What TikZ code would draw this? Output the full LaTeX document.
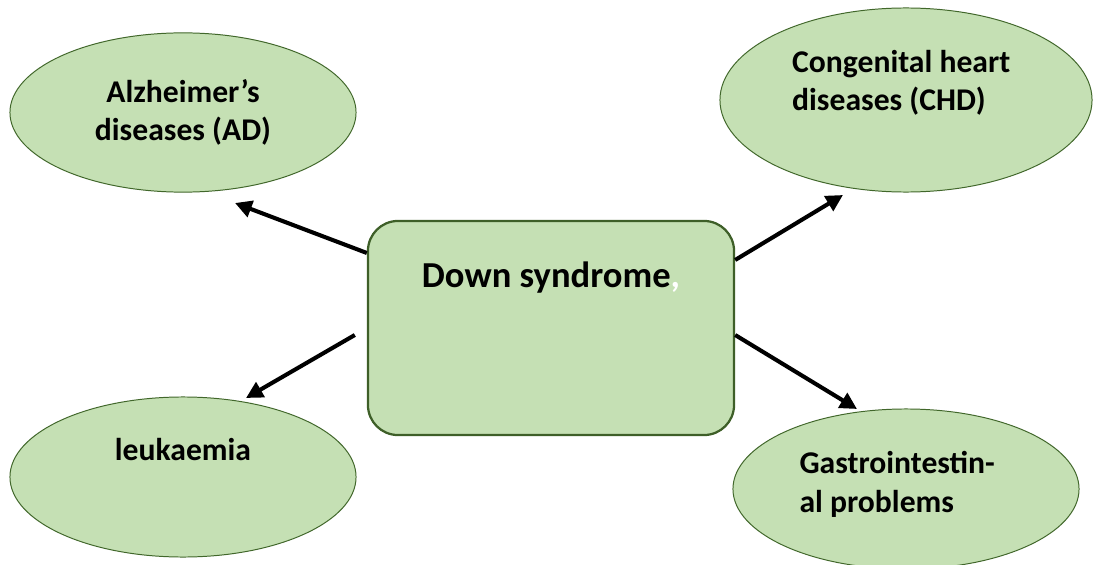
\documentclass[tikz,border=0pt]{standalone}
\usepackage{fontspec}
\setmainfont{Carlito}
\usepackage{tikz}
\usetikzlibrary{arrows.meta, positioning, shapes.geometric}
\definecolor{leafgreen}{HTML}{C5E0B4}
\definecolor{rimgreen}{HTML}{41672B}
\definecolor{hubrim}{HTML}{3E5F28}

\begin{document}
\begin{tikzpicture}[
    x=0.025cm, y=-0.025cm,
    disease/.style={draw=rimgreen, line width=0.7pt, ellipse, fill=leafgreen, minimum width=#1, inner sep=0pt},
    hub/.style={draw=hubrim, line width=1.6pt, rounded corners=0.75cm, fill=leafgreen,
      minimum width=9.15cm, minimum height=5.35cm},
    txt/.style={font=\fontsize{22.5}{27.5}\selectfont\bfseries, align=#1},
    arrow/.style={-{Triangle[length=0.42cm, width=0.42cm]}, line width=2.9pt}
]
\useasboundingbox (0,0) rectangle (1093,565);
\clip (0,0) rectangle (1093,565);

% Hub
\node[hub, label={[font=\fontsize{26}{30}\selectfont\bfseries, yshift=1.25cm]center:{Down syndrome\textcolor{white}{,}}}] (down) at (551,328) {};

% Diseases
\node[disease=8.65cm, minimum height=3.98cm,
  label={[txt=center]center:{Alzheimer’s\\diseases (AD)}}] (ad) at (183,112.5) {};
\node[disease=9.3cm, minimum height=4.6cm,
  label={[txt=left, xshift=-0.12cm, yshift=0.43cm]center:{Congenital heart\\diseases (CHD)}}] (chd) at (906,100) {};
\node[disease=8.65cm, minimum height=4.0cm,
  label={[txt=center, yshift=0.68cm]center:{leukaemia}}] (leuk) at (183,477) {};
\node[disease=8.65cm, minimum height=4.0cm,
  label={[txt=left, xshift=-0.22cm, yshift=0.12cm]center:{Gastrointestin-\\al problems}}] (gip) at (906,489) {};

% Arrow tips
\coordinate (tipad) at (235,203);
\coordinate (tipchd) at (843,195);
\coordinate (tipleuk) at (246,398);
\coordinate (tipgip) at (857,409);

% Arrows
\draw[arrow] ([yshift=1.875cm]down.west) -- (tipad);
\draw[arrow] ([yshift=1.7cm]down.east) -- (tipchd);
\draw[arrow] ([xshift=-0.3cm, yshift=-0.175cm]down.west) -- (tipleuk);
\draw[arrow] ([yshift=-0.175cm]down.east) -- (tipgip);

\end{tikzpicture}
\end{document}
